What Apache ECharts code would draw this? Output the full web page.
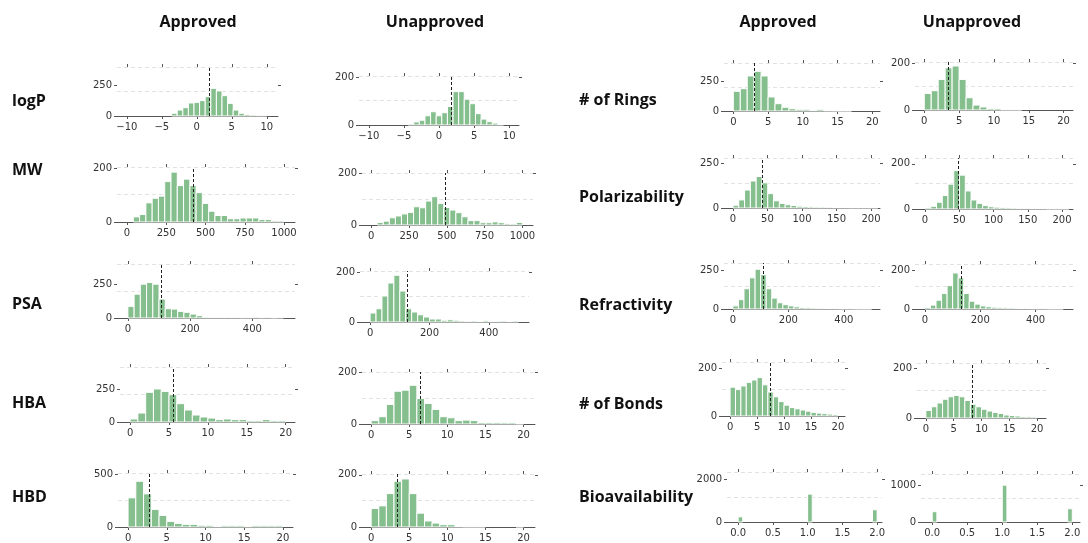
<!DOCTYPE html>
<html><head><meta charset="utf-8">
<script src="https://cdn.jsdelivr.net/npm/echarts@6/dist/echarts.min.js"></script>
<style>html,body{margin:0;padding:0;background:#fff}#c{width:1088px;height:543px}</style>
</head><body><div id="c"></div>
<script>
// ---------- DATA ----------
const features = ['logP','MW','PSA','HBA','HBD','# of Rings','Polarizability','Refractivity','# of Bonds','Bioavailability'];
const groups = ['Approved','Unapproved'];
// bins: [first edge, bin width]
const logP_bins = [-10, 0.8];
const logP_approved   = [0,0,0,0,0,0,0,0,22,48,67,105,110,124,156,223,202,164,102,48,22,13,8,6,5];
const logP_unapproved = [0,0,0,0,0,0,0,4,13,20,39,56,39,52,78,141,141,109,90,48,25,14,8,2,0];
const MW_bins = [40, 40];
const MW_approved   = [19,28,71,88,96,150,185,135,159,135,109,69,40,24,24,12,12,15,15,15,9,9,4,4];
const MW_unapproved = [10,15,28,35,43,49,71,67,93,110,84,68,58,48,32,17,17,9,9,12,9,5,4,10];
const PSA_bins = [0, 20];
const PSA_approved   = [86,176,250,262,250,140,69,66,49,42,29,17,6,5,5,4,5,5,3,4,6,3,5,2,5];
const PSA_unapproved = [36,53,104,156,187,124,53,40,29,20,12,12,7,9,7,4,3,4,2,5,2,3,4,2,4];
const HBA_bins = [0, 1];
const HBA_approved   = [23,68,225,250,232,207,139,91,53,38,30,18,23,18,18,10,10,18,10,10];
const HBA_unapproved = [13,28,75,126,130,149,98,79,56,28,24,13,15,13,6,6,6,5,5,1];
const HBD_bins = [0, 1];
const HBD_approved   = [275,431,312,166,109,53,34,25,25,16,16,6,12,12,12,6,12,12,12,12];
const HBD_unapproved = [71,81,128,175,184,128,53,23,15,9,9,2,1,1,1,0,0,0,0,1];
const Rings_bins = [0, 1];
const Rings_approved   = [164,186,292,331,292,117,61,31,19,14,14,6,14,3,2,1,1,0,0,0];
const Rings_unapproved = [70,82,130,179,187,130,52,21,13,6,6,1,1,1,0,0,0,0,0,0];
const Polar_bins = [0, 8.4];
const Polar_approved   = [15,45,100,150,175,140,80,40,25,18,14,10,8,6,5,5,4,3,3,3,2,2,2,2,2];
const Polar_unapproved = [5,12,30,60,110,170,150,80,40,25,15,10,8,6,5,4,3,3,2,2,2,1,1,1,1];
const Refr_bins = [0, 20];
const Refr_approved   = [20,60,130,200,255,220,130,70,40,28,20,14,10,8,6,5,4,3,3,2,2,2,1,1,1];
const Refr_unapproved = [8,20,45,80,120,185,160,80,40,25,16,12,9,7,6,5,4,3,3,2,2,2,1,1,1];
const Bonds_bins = [0, 1];
const Bonds_approved   = [120,110,125,140,150,160,130,100,80,60,45,35,30,25,20,15,12,10,8,6];
const Bonds_unapproved = [30,45,60,75,85,90,85,70,55,45,35,28,22,18,12,10,8,6,5,4];
const Bio_bins = [0, 2/30];
const Bio_approved   = [240,0,0,0,0,0,0,0,0,0,0,0,0,0,0,1300,0,0,0,0,0,0,0,0,0,0,0,0,0,570];
const Bio_unapproved = [280,0,0,0,0,0,0,0,0,0,0,0,0,0,0,1000,0,0,0,0,0,0,0,0,0,0,0,0,0,360];
// dashed reference lines (approved, unapproved)
const logP_means = [1.8, 1.76];
const MW_means = [419, 492];
const PSA_means = [106, 125.5];
const HBA_means = [5.57, 6.5];
const HBD_means = [2.72, 3.44];
const Rings_means = [2.98, 3.44];
const Polar_means = [42, 48];
const Refr_means = [108, 131];
const Bonds_means = [7.5, 8.3];
const Bio_means = [null, null];
// tick labels
const logP_xticks = [-10,-5,0,5,10];
const MW_xticks = [0,250,500,750,1000];
const PSA_xticks = [0,200,400];
const count_xticks = [0,5,10,15,20];
const Polar_xticks = [0,50,100,150,200];
const Refr_xticks = [0,200,400];
const Bio_xticks = [0,0.5,1,1.5,2];
const logP_yticks = [250,200];
const MW_yticks = [200,200];
const PSA_yticks = [250,200];
const HBA_yticks = [250,200];
const HBD_yticks = [500,200];
const Rings_yticks = [250,200];
const Polar_yticks = [250,200];
const Refr_yticks = [250,200];
const Bonds_yticks = [200,200];
const Bio_yticks = [2000,1000];

const featureData = [
  [logP_bins, [logP_approved, logP_unapproved], logP_means, logP_xticks, logP_yticks],
  [MW_bins, [MW_approved, MW_unapproved], MW_means, MW_xticks, MW_yticks],
  [PSA_bins, [PSA_approved, PSA_unapproved], PSA_means, PSA_xticks, PSA_yticks],
  [HBA_bins, [HBA_approved, HBA_unapproved], HBA_means, count_xticks, HBA_yticks],
  [HBD_bins, [HBD_approved, HBD_unapproved], HBD_means, count_xticks, HBD_yticks],
  [Rings_bins, [Rings_approved, Rings_unapproved], Rings_means, count_xticks, Rings_yticks],
  [Polar_bins, [Polar_approved, Polar_unapproved], Polar_means, Polar_xticks, Polar_yticks],
  [Refr_bins, [Refr_approved, Refr_unapproved], Refr_means, Refr_xticks, Refr_yticks],
  [Bonds_bins, [Bonds_approved, Bonds_unapproved], Bonds_means, count_xticks, Bonds_yticks],
  [Bio_bins, [Bio_approved, Bio_unapproved], Bio_means, Bio_xticks, Bio_yticks]
];

// ---------- LAYOUT (pixel rects [l,t,r,b], axis limits, top of y axis) ----------
const layout = [
  [[117,67,278,116],[-11.4,11.6],395], [[359,76,519,125],[-11.4,11.4],207],
  [[117,167,295,222],[-64,1070],204],  [[362,173,533,225],[-61,1070],202],
  [[117,264,295,318],[-35,537],399],   [[360,271,529,322],[-34,535],204],
  [[120,367,295,422],[-1.3,21.2],417], [[362,372,535,424],[-1.2,21.5],200],
  [[118,473,293,528],[-1.3,21.3],509], [[362,474,535,528],[-1.2,21.5],203],
  [[724,63,880,111],[-1.34,21.1],400], [[915,62,1073,110],[-1.33,21.35],204],
  [[724,158,880,208],[-13,213],278],   [[915,158,1073,209],[-14.6,216],226],
  [[724,263,880,309],[-32,530],295],   [[915,264,1073,309],[-36,535],231],
  [[722,362,845,416],[-1.5,21.3],225], [[917,363,1046,418],[-1.6,21.6],220],
  [[727,472,882,522],[-0.16,2.07],2330],[[921,474,1080,522],[-0.16,2.11],1305]
];

const BAR = '#86bf8e', AX = '#555', TXT = '#333', GRID = '#e2e2e2';
const FONT = 'DejaVu Sans';

const grids = [], xAxes = [], yAxes = [], series = [];
function fmt(v, dec){ const s = dec ? v.toFixed(1) : String(v); return s.replace('-', '\u2212'); }

featureData.forEach((fd, f) => {
  const [bins, counts, means, xticks, yticks] = fd;
  const dec = f === 9;
  [0,1].forEach(g => {
    const i = f*2 + g;
    const [rect, xlim, ymax] = layout[i];
    const [l,t,r,b] = rect;
    grids.push({left:l, top:t, width:r-l, height:b-t});
    const xbase = {gridIndex:i, type:'value', min:xlim[0], max:xlim[1], splitLine:{show:false}};
    xAxes.push(Object.assign({}, xbase, {position:'bottom',
      axisLine:{show:true, onZero:false, lineStyle:{color:AX, width:1}},
      axisTick:{show:true, length:3, customValues:xticks, lineStyle:{color:AX}},
      axisLabel:{show:true, customValues:xticks, formatter:v=>fmt(v,dec), color:TXT, fontSize:10, fontFamily:FONT, margin:6}}));
    xAxes.push(Object.assign({}, xbase, {position:'top',
      axisLine:{show:false, onZero:false}, axisTick:{show:true, length:3, customValues:xticks, lineStyle:{color:AX}},
      axisLabel:{show:false}}));
    const ybase = {gridIndex:i, type:'value', min:0, max:ymax, splitLine:{show:false}};
    yAxes.push(Object.assign({}, ybase, {position:'left', axisLine:{show:false, onZero:false},
      axisTick:{show:true, length:3, customValues:[0, yticks[g]], lineStyle:{color:AX}},
      axisLabel:{show:true, customValues:[0, yticks[g]], formatter:v=>String(v), color:TXT, fontSize:10, fontFamily:FONT, margin:5}}));
    yAxes.push(Object.assign({}, ybase, {position:'right', axisLine:{show:false, onZero:false},
      axisTick:{show:true, length:3, customValues:[yticks[g]], lineStyle:{color:AX}},
      axisLabel:{show:false}}));
    yAxes.push({gridIndex:i, type:'value', min:0, max:2, interval:1, position:'right',
      axisLine:{show:false, onZero:false}, axisTick:{show:false}, axisLabel:{show:false},
      splitLine:{show:true, showMinLine:false, lineStyle:{color:GRID, type:[4,3], width:1}}});
    const data = counts[g].map((c,k) => [bins[0]+k*bins[1], bins[0]+(k+1)*bins[1], c]);
    const s = {type:'custom', xAxisIndex:2*i, yAxisIndex:3*i, z:3, data:data, encode:{x:[0,1], y:2},
      renderItem:(params, api) => {
        const h = api.value(2); if (!h) return null;
        const p0 = api.coord([api.value(0), h]);
        const p1 = api.coord([api.value(1), 0]);
        return {type:'rect', shape:{x:p0[0], y:p0[1], width:p1[0]-p0[0], height:p1[1]-p0[1]},
          style:{fill:BAR, stroke:'#fff', lineWidth:1}};
      }};
    if (means[g] != null) {
      s.markLine = {silent:true, symbol:'none', label:{show:false}, animation:false,
        lineStyle:{color:'#222', type:[3,2], width:1}, data:[{xAxis:means[g]}]};
    }
    series.push(s);
  });
});

const graphic = [];
const head = {fontFamily:'Open Sans', fontWeight:'bold', fontSize:16, fill:'#111'};
[[198,'Approved'],[435,'Unapproved'],[778,'Approved'],[972,'Unapproved']].forEach(([x,tx]) =>
  graphic.push({type:'text', x:x, y:22, style:Object.assign({text:tx, align:'center', verticalAlign:'middle'}, head)}));
const rowY = [[101,170,304,403,497],[100,197,305,404,497]];
features.forEach((name, f) => {
  const side = f < 5 ? 0 : 1;
  graphic.push({type:'text', x: side ? 579 : 12, y: rowY[side][f%5],
    style:Object.assign({text:name, align:'left', verticalAlign:'middle'}, head)});
});

const chart = echarts.init(document.getElementById('c'));
chart.setOption({animation:false, grid:grids, xAxis:xAxes, yAxis:yAxes, series:series, graphic:graphic});
</script></body></html>
